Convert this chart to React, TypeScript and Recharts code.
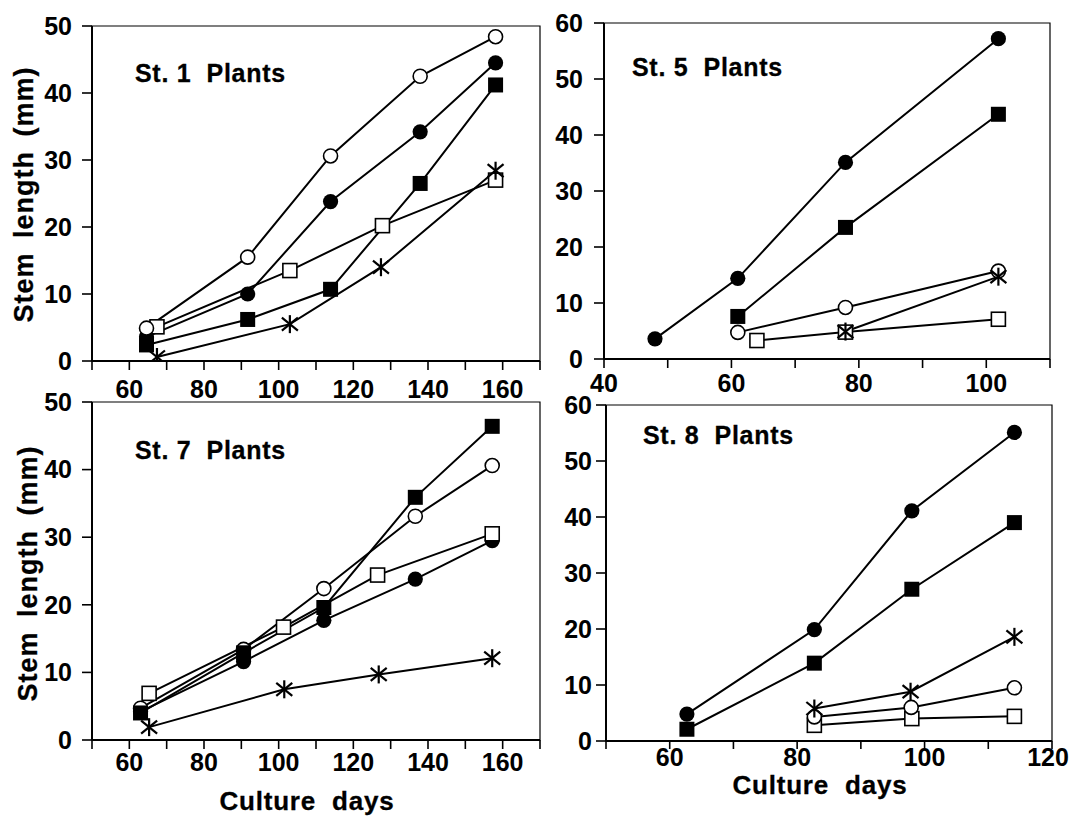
import React from 'react';
import { LineChart, Line, XAxis, YAxis, ReferenceArea } from 'recharts';

type Pt = { x: number; y: number };

// ---- St. 1 Plants ----
const st1OpenCircle: Pt[] = [{ x: 64.6, y: 4.9 }, { x: 91.7, y: 15.5 }, { x: 113.9, y: 30.6 }, { x: 137.9, y: 42.5 }, { x: 158.1, y: 48.4 }];
const st1FilledCircle: Pt[] = [{ x: 64.6, y: 3.6 }, { x: 91.7, y: 10.0 }, { x: 113.9, y: 23.8 }, { x: 137.9, y: 34.2 }, { x: 158.1, y: 44.5 }];
const st1FilledSquare: Pt[] = [{ x: 64.6, y: 2.4 }, { x: 91.7, y: 6.2 }, { x: 113.9, y: 10.7 }, { x: 137.9, y: 26.5 }, { x: 158.1, y: 41.2 }];
const st1OpenSquare: Pt[] = [{ x: 67.4, y: 5.1 }, { x: 103.0, y: 13.5 }, { x: 127.8, y: 20.2 }, { x: 158.1, y: 27.0 }];
const st1Star: Pt[] = [{ x: 67.4, y: 0.6 }, { x: 103.0, y: 5.5 }, { x: 127.4, y: 14.0 }, { x: 158.1, y: 28.4 }];

// ---- St. 5 Plants ----
const st5FilledCircle: Pt[] = [{ x: 48.0, y: 3.6 }, { x: 61.0, y: 14.4 }, { x: 77.9, y: 35.1 }, { x: 101.9, y: 57.2 }];
const st5FilledSquare: Pt[] = [{ x: 61.0, y: 7.6 }, { x: 77.9, y: 23.5 }, { x: 101.9, y: 43.7 }];
const st5OpenCircle: Pt[] = [{ x: 61.0, y: 4.75 }, { x: 77.9, y: 9.2 }, { x: 101.9, y: 15.7 }];
const st5OpenSquare: Pt[] = [{ x: 64.0, y: 3.3 }, { x: 77.9, y: 4.8 }, { x: 101.9, y: 7.1 }];
const st5Star: Pt[] = [{ x: 77.9, y: 4.9 }, { x: 101.9, y: 14.7 }];

// ---- St. 7 Plants ----
const st7FilledCircle: Pt[] = [{ x: 63.0, y: 4.2 }, { x: 90.6, y: 11.6 }, { x: 112.1, y: 17.7 }, { x: 136.6, y: 23.8 }, { x: 157.2, y: 29.5 }];
const st7OpenSquare: Pt[] = [{ x: 65.3, y: 6.9 }, { x: 101.3, y: 16.7 }, { x: 126.5, y: 24.4 }, { x: 157.2, y: 30.5 }];
const st7OpenCircle: Pt[] = [{ x: 63.0, y: 4.7 }, { x: 90.6, y: 13.4 }, { x: 112.1, y: 22.4 }, { x: 136.6, y: 33.1 }, { x: 157.2, y: 40.6 }];
const st7FilledSquare: Pt[] = [{ x: 63.0, y: 4.0 }, { x: 90.6, y: 12.9 }, { x: 112.1, y: 19.6 }, { x: 136.6, y: 35.9 }, { x: 157.2, y: 46.4 }];
const st7Star: Pt[] = [{ x: 65.3, y: 1.9 }, { x: 101.5, y: 7.5 }, { x: 126.8, y: 9.7 }, { x: 157.2, y: 12.1 }];

// ---- St. 8 Plants ----
const st8FilledCircle: Pt[] = [{ x: 62.7, y: 4.8 }, { x: 82.7, y: 19.9 }, { x: 98.0, y: 41.1 }, { x: 114.1, y: 55.1 }];
const st8FilledSquare: Pt[] = [{ x: 62.7, y: 2.1 }, { x: 82.7, y: 13.9 }, { x: 98.0, y: 27.1 }, { x: 114.1, y: 39.0 }];
const st8OpenSquare: Pt[] = [{ x: 82.7, y: 2.8 }, { x: 98.0, y: 4.0 }, { x: 114.1, y: 4.4 }];
const st8OpenCircle: Pt[] = [{ x: 82.7, y: 4.3 }, { x: 97.9, y: 6.0 }, { x: 114.1, y: 9.5 }];
const st8Star: Pt[] = [{ x: 82.7, y: 5.8 }, { x: 97.8, y: 8.8 }, { x: 114.1, y: 18.6 }];

// ---- axes ----
const ticks50to170 = [50, 60, 70, 80, 90, 100, 110, 120, 130, 140, 150, 160, 170];
const ticks40to110 = [40, 50, 60, 70, 80, 90, 100, 110];
const ticks50to120 = [50, 60, 70, 80, 90, 100, 110, 120];
const yTicks50 = [0, 10, 20, 30, 40, 50];
const yTicks60 = [0, 10, 20, 30, 40, 50, 60];

const titles = ['St. 1  Plants', 'St. 5  Plants', 'St. 7  Plants', 'St. 8  Plants'];
const yLabel = 'Stem length (mm)';
const xLabel = 'Culture days';

const FONT = '"Liberation Sans", Arial, Helvetica, sans-serif';
const W = 1071;
const H = 816;

type Kind = 'oc' | 'fc' | 'fs' | 'os' | 'st';

function Marker({ cx, cy, kind }: { cx: number; cy: number; kind: Kind }) {
  if (cx == null || cy == null || isNaN(cx) || isNaN(cy)) return <g />;
  switch (kind) {
    case 'oc':
      return <circle cx={cx} cy={cy} r={7} fill="#fff" stroke="#000" strokeWidth={1.6} />;
    case 'fc':
      return <circle cx={cx} cy={cy} r={7.6} fill="#000" />;
    case 'fs':
      return <rect x={cx - 7.5} y={cy - 7.5} width={15} height={15} fill="#000" />;
    case 'os':
      return <rect x={cx - 7} y={cy - 7} width={14} height={14} fill="#fff" stroke="#000" strokeWidth={1.6} />;
    case 'st':
    default:
      return (
        <g stroke="#000" strokeWidth={2.2}>
          <line x1={cx} y1={cy - 9} x2={cx} y2={cy + 9} />
          <line x1={cx - 8} y1={cy - 6.5} x2={cx + 8} y2={cy + 6.5} />
          <line x1={cx - 8} y1={cy + 6.5} x2={cx + 8} y2={cy - 6.5} />
        </g>
      );
  }
}

const dotFor = (kind: Kind) => (props: any) => (
  <Marker key={`m-${kind}-${props.index}`} cx={props.cx} cy={props.cy} kind={kind} />
);

type Series = { data: Pt[]; kind: Kind };

type PanelProps = {
  x0: number; x1: number; y0: number; y1: number;
  xDomain: [number, number]; xTicks: number[];
  yDomain: [number, number]; yTicks: number[];
  series: Series[];
  xTickSize: number; xTickMargin: number; yTickMargin: number; yTickSize: number;
  lastShift?: number;
};

const TICK_FONT = 25;

function Panel(p: PanelProps) {
  const tickStyle = { fill: '#000', fontSize: TICK_FONT, fontWeight: 700, fontFamily: FONT };
  const xTick = (props: any) => {
    const v = props.payload?.value as number;
    const label = v % 20 === 0 ? String(v) : '';
    const shift = v === p.xDomain[1] ? p.lastShift || 0 : 0;
    return (
      <text
        key={`xt-${v}`}
        x={props.x + shift}
        y={props.y}
        dy="0.71em"
        textAnchor="middle"
        fill="#000"
        fontSize={TICK_FONT}
        fontWeight={700}
        fontFamily={FONT}
      >
        {label}
      </text>
    );
  };
  return (
    <div style={{ position: 'absolute', left: 0, top: 0, width: W, height: H }}>
      <LineChart
        width={W}
        height={H}
        margin={{ top: p.y0, right: W - p.x1, left: 0, bottom: 0 }}
      >
        <XAxis
          type="number"
          dataKey="x"
          domain={p.xDomain}
          ticks={p.xTicks}
          interval={0}
          allowDataOverflow
          height={H - p.y1}
          tick={xTick}
          tickSize={p.xTickSize}
          tickMargin={p.xTickMargin}
          axisLine={{ stroke: '#000', strokeWidth: 2 }}
          tickLine={{ stroke: '#000', strokeWidth: 1.6 }}
        />
        <YAxis
          type="number"
          dataKey="y"
          domain={p.yDomain}
          ticks={p.yTicks}
          interval={0}
          allowDataOverflow
          width={p.x0}
          tick={tickStyle}
          tickSize={p.yTickSize}
          tickMargin={p.yTickMargin}
          axisLine={{ stroke: '#000', strokeWidth: 2 }}
          tickLine={{ stroke: '#000', strokeWidth: 1.6 }}
        />
        <ReferenceArea
          x1={p.xDomain[0]}
          x2={p.xDomain[1]}
          y1={p.yDomain[0]}
          y2={p.yDomain[1]}
          fill="none"
          fillOpacity={0}
          stroke="#000"
          strokeWidth={1.2}
          ifOverflow="visible"
        />
        {p.series.map((s, i) => (
          <Line
            key={i}
            data={s.data}
            dataKey="y"
            type="linear"
            stroke="#000"
            strokeWidth={2}
            dot={dotFor(s.kind)}
            activeDot={false}
            isAnimationActive={false}
            legendType="none"
          />
        ))}
      </LineChart>
    </div>
  );
}

const textStyle: React.CSSProperties = { whiteSpace: 'pre' };

export default function App() {
  return (
    <div style={{ position: 'absolute', left: 0, top: 0, width: W, height: H, background: '#fff', overflow: 'hidden' }}>
      <Panel
        x0={92} x1={540} y0={26} y1={361}
        xDomain={[50, 170]} xTicks={ticks50to170}
        yDomain={[0, 50]} yTicks={yTicks50}
        xTickSize={9} xTickMargin={10} yTickMargin={10} yTickSize={10}
        series={[
          { data: st1OpenSquare, kind: 'os' },
          { data: st1Star, kind: 'st' },
          { data: st1FilledSquare, kind: 'fs' },
          { data: st1FilledCircle, kind: 'fc' },
          { data: st1OpenCircle, kind: 'oc' },
        ]}
      />
      <Panel
        x0={604} x1={1050} y0={23} y1={359}
        xDomain={[40, 110]} xTicks={ticks40to110}
        yDomain={[0, 60]} yTicks={yTicks60}
        xTickSize={9} xTickMargin={6} yTickMargin={11} yTickSize={10}
        series={[
          { data: st5FilledCircle, kind: 'fc' },
          { data: st5FilledSquare, kind: 'fs' },
          { data: st5OpenCircle, kind: 'oc' },
          { data: st5OpenSquare, kind: 'os' },
          { data: st5Star, kind: 'st' },
        ]}
      />
      <Panel
        x0={92} x1={540} y0={402} y1={740}
        xDomain={[50, 170]} xTicks={ticks50to170}
        yDomain={[0, 50]} yTicks={yTicks50}
        xTickSize={9} xTickMargin={4} yTickMargin={10} yTickSize={10}
        series={[
          { data: st7Star, kind: 'st' },
          { data: st7FilledCircle, kind: 'fc' },
          { data: st7OpenSquare, kind: 'os' },
          { data: st7OpenCircle, kind: 'oc' },
          { data: st7FilledSquare, kind: 'fs' },
        ]}
      />
      <Panel
        x0={606} x1={1052} y0={405} y1={741}
        xDomain={[50, 120]} xTicks={ticks50to120}
        yDomain={[0, 60]} yTicks={yTicks60}
        xTickSize={8} xTickMargin={-1} yTickMargin={4} yTickSize={10}
        lastShift={-4}
        series={[
          { data: st8FilledCircle, kind: 'fc' },
          { data: st8FilledSquare, kind: 'fs' },
          { data: st8OpenSquare, kind: 'os' },
          { data: st8OpenCircle, kind: 'oc' },
          { data: st8Star, kind: 'st' },
        ]}
      />
      <svg
        width={W}
        height={H}
        style={{ position: 'absolute', left: 0, top: 0, pointerEvents: 'none' }}
        fontFamily={FONT}
        fontWeight={700}
        fill="#000"
      >
        <text x={135} y={82} fontSize={25} letterSpacing={0.7} stroke="#000" strokeWidth={0.3} style={textStyle}>{titles[0]}</text>
        <text x={632} y={76} fontSize={25} letterSpacing={0.7} stroke="#000" strokeWidth={0.3} style={textStyle}>{titles[1]}</text>
        <text x={135} y={459} fontSize={25} letterSpacing={0.7} stroke="#000" strokeWidth={0.3} style={textStyle}>{titles[2]}</text>
        <text x={643} y={444} fontSize={25} letterSpacing={0.7} stroke="#000" strokeWidth={0.3} style={textStyle}>{titles[3]}</text>

        <text transform="translate(33,194.5) rotate(-90)" textAnchor="middle" fontSize={27} letterSpacing={1} wordSpacing={6} stroke="#000" strokeWidth={0.3}>{yLabel}</text>
        <text transform="translate(37,573.5) rotate(-90)" textAnchor="middle" fontSize={27} letterSpacing={1} wordSpacing={6} stroke="#000" strokeWidth={0.3}>{yLabel}</text>

        <text x={307} y={810} textAnchor="middle" fontSize={26} letterSpacing={0.8} wordSpacing={8} stroke="#000" strokeWidth={0.3}>{xLabel}</text>
        <text x={820} y={794} textAnchor="middle" fontSize={26} letterSpacing={0.8} wordSpacing={8} stroke="#000" strokeWidth={0.3}>{xLabel}</text>
      </svg>
    </div>
  );
}
